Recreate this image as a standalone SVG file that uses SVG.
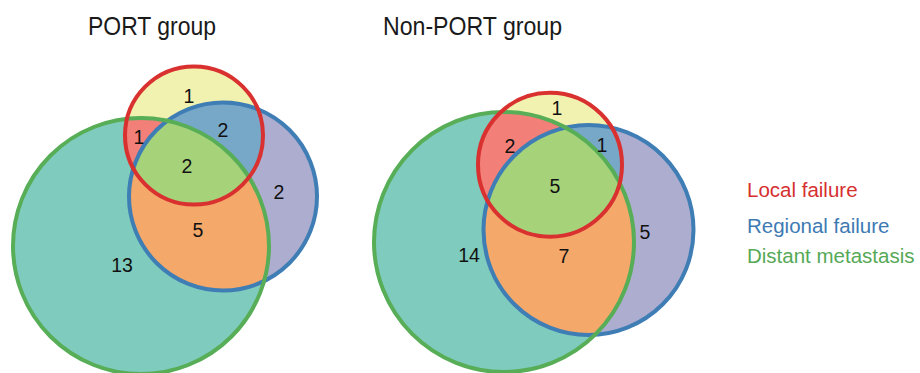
<svg xmlns="http://www.w3.org/2000/svg" width="920" height="373" viewBox="0 0 920 373">
<style>
.t{font-family:"Liberation Sans",Arial,sans-serif;fill:#1a1a1a}
.n{font-family:"Liberation Sans",Arial,sans-serif;font-size:19.5px;fill:#111;text-anchor:middle}
.title{font-size:25px}
.lg{font-family:"Liberation Sans",Arial,sans-serif;font-size:20.5px}
.sr{fill:none;stroke:#d9312f;stroke-width:4}
.sb{fill:none;stroke:#3f7db5;stroke-width:4}
.sg{fill:none;stroke:#58ad57;stroke-width:4}
</style>
<defs>
<clipPath id="Lr"><circle cx="194" cy="135.5" r="69"/></clipPath>
<clipPath id="Lb"><circle cx="223" cy="196.5" r="94"/></clipPath>
<clipPath id="Rr"><circle cx="550" cy="164.7" r="72"/></clipPath>
<clipPath id="Rb"><circle cx="588.5" cy="230" r="105"/></clipPath>
</defs>
<text class="t title" x="88" y="35" textLength="128" lengthAdjust="spacingAndGlyphs">PORT group</text>
<text class="t title" x="383" y="35" textLength="179" lengthAdjust="spacingAndGlyphs">Non-PORT group</text>

<g id="port">
<circle cx="194" cy="135.5" r="69" fill="#f2f2b0"/>
<circle cx="223" cy="196.5" r="94" fill="#adadcf"/>
<circle cx="141" cy="246" r="128" fill="#7fcbbd"/>
<circle cx="223" cy="196.5" r="94" fill="#77a8c8" clip-path="url(#Lr)"/>
<circle cx="141" cy="246" r="128" fill="#f27f78" clip-path="url(#Lr)"/>
<circle cx="141" cy="246" r="128" fill="#f4a86a" clip-path="url(#Lb)"/>
<g clip-path="url(#Lr)"><circle cx="141" cy="246" r="128" fill="#a6d27a" clip-path="url(#Lb)"/></g>
<circle class="sb" cx="223" cy="196.5" r="94"/>
<circle class="sg" cx="141" cy="246" r="128"/>
<circle class="sr" cx="194" cy="135.5" r="69"/>
<text class="n" x="189" y="103">1</text>
<text class="n" x="139" y="144">1</text>
<text class="n" x="223" y="137">2</text>
<text class="n" x="187" y="173">2</text>
<text class="n" x="279" y="199">2</text>
<text class="n" x="198" y="237">5</text>
<text class="n" x="122" y="272">13</text>
</g>

<g id="nonport">
<circle cx="550" cy="164.7" r="72" fill="#f2f2b0"/>
<circle cx="588.5" cy="230" r="105" fill="#adadcf"/>
<circle cx="504" cy="242" r="130" fill="#7fcbbd"/>
<circle cx="588.5" cy="230" r="105" fill="#77a8c8" clip-path="url(#Rr)"/>
<circle cx="504" cy="242" r="130" fill="#f27f78" clip-path="url(#Rr)"/>
<circle cx="504" cy="242" r="130" fill="#f4a86a" clip-path="url(#Rb)"/>
<g clip-path="url(#Rr)"><circle cx="504" cy="242" r="130" fill="#a6d27a" clip-path="url(#Rb)"/></g>
<circle class="sb" cx="588.5" cy="230" r="105"/>
<circle class="sg" cx="504" cy="242" r="130"/>
<circle class="sr" cx="550" cy="164.7" r="72"/>
<text class="n" x="557" y="115">1</text>
<text class="n" x="510" y="153">2</text>
<text class="n" x="602" y="152">1</text>
<text class="n" x="555" y="193">5</text>
<text class="n" x="645" y="239">5</text>
<text class="n" x="469" y="262">14</text>
<text class="n" x="564" y="263">7</text>
</g>

<g id="legend">
<text class="lg" x="747" y="197" fill="#d62f2f">Local failure</text>
<text class="lg" x="747" y="233" fill="#3d7ab3">Regional failure</text>
<text class="lg" x="747" y="263" fill="#56a956">Distant metastasis</text>
</g>
</svg>
